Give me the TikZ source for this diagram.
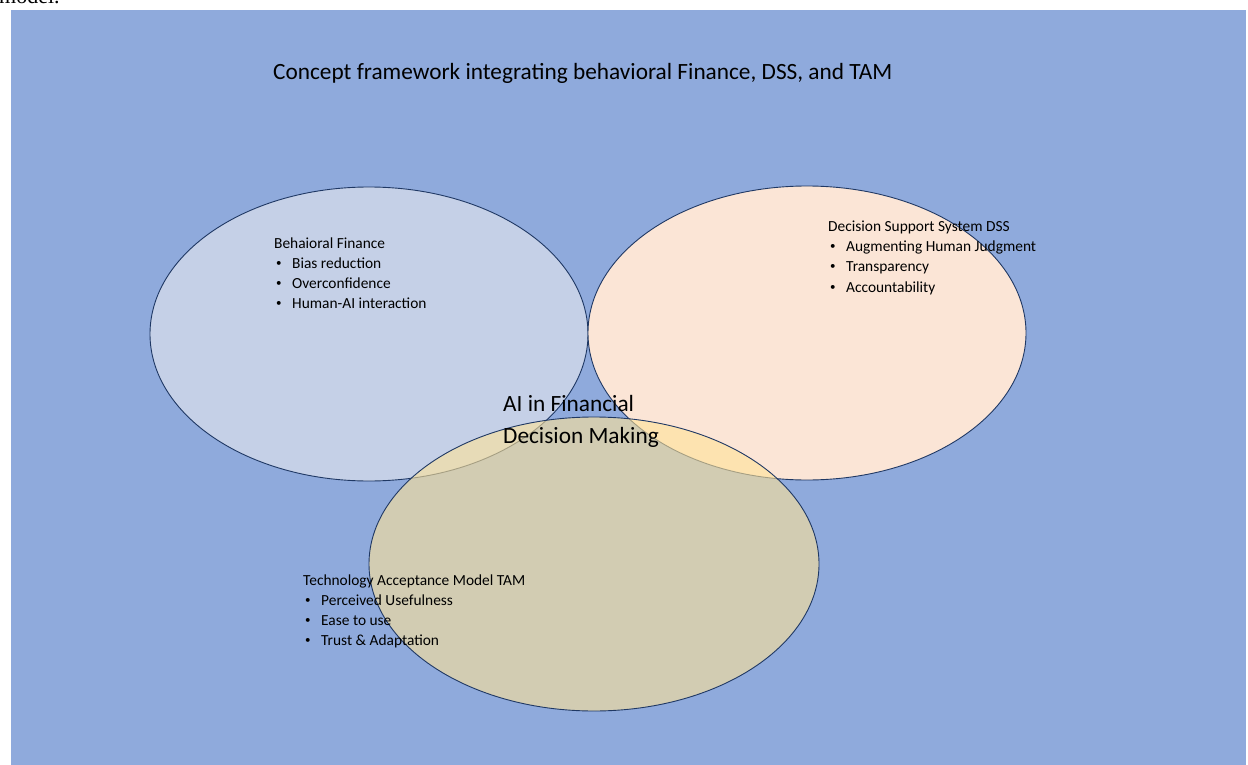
\documentclass[tikz,border=0pt]{standalone}
\usepackage{fontspec}
\setmainfont{Carlito}
\newfontfamily\serifmodel{Liberation Serif}
\definecolor{bgblue}{RGB}{143,170,220}
\definecolor{leftfill}{RGB}{197,208,231}
\definecolor{rightfill}{RGB}{251,229,214}
\definecolor{botfill}{RGB}{255,227,151}
\definecolor{edge}{RGB}{31,56,100}
\newcommand{\smallbul}{\raisebox{1.5pt}{\fontsize{11}{11}\selectfont\textbullet}}
\tikzset{
  circ/.style={draw=edge, line width=0.9pt},
  line/.style={anchor=base west, inner sep=0pt, font=\fontsize{15.4}{18}\selectfont, text=black},
  bul/.style={line, execute at begin node={\hspace*{2pt}\makebox[16pt][l]{\smallbul}}},
  big/.style={anchor=base west, inner sep=0pt, font=\fontsize{23.3}{27}\selectfont, text=black}
}
\begin{document}
\begin{tikzpicture}[x=1pt,y=-1pt]
\useasboundingbox (0,0) rectangle (1248,765);
\clip (0,0) rectangle (1248,765);
\node[anchor=base west, inner sep=0pt, font=\serifmodel\fontsize{22}{26}\selectfont] (model) at (-1,4) {model.};
\fill[bgblue] (11,10) rectangle (1246,765);
% ellipses
\fill[leftfill] (369,334) ellipse [x radius=219, y radius=147];
\draw[circ] (369,334) ellipse [x radius=219, y radius=147];
\coordinate (bfc) at (369,334);
\fill[rightfill] (807,333) ellipse [x radius=219, y radius=147];
\draw[circ] (807,333) ellipse [x radius=219, y radius=147];
\coordinate (dssc) at (807,333);
\fill[botfill, fill opacity=0.6] (594,564) ellipse [x radius=225, y radius=147];
\draw[circ] (594,564) ellipse [x radius=225, y radius=147];
\coordinate (tamc) at (594,564);
% title
\node[big] (title) at (273,80) {Concept framework integrating behavioral Finance, DSS, and TAM};
% left
\node[line] (bf0) at (274,248) {Behaioral Finance};
\node[bul] (bf1) at (274,268) {Bias reduction};
\node[bul] (bf2) at (274,288) {Overconfidence};
\node[bul] (bf3) at (274,308) {Human-AI interaction};
% right
\node[line] (dss0) at (828,231) {Decision Support System DSS};
\node[bul] (dss1) at (828,251) {Augmenting Human Judgment};
\node[bul] (dss2) at (828,271) {Transparency};
\node[bul] (dss3) at (828,292) {Accountability};
% bottom
\node[line] (tam0) at (303,585) {Technology Acceptance Model TAM};
\node[bul] (tam1) at (303,605) {Perceived Usefulness};
\node[bul] (tam2) at (303,625) {Ease to use};
\node[bul] (tam3) at (303,645) {Trust \& Adaptation};
% center
\node[big] (ai1) at (503,411) {AI in Financial};
\node[big] (ai2) at (503,443) {Decision Making};
\end{tikzpicture}
\end{document}
